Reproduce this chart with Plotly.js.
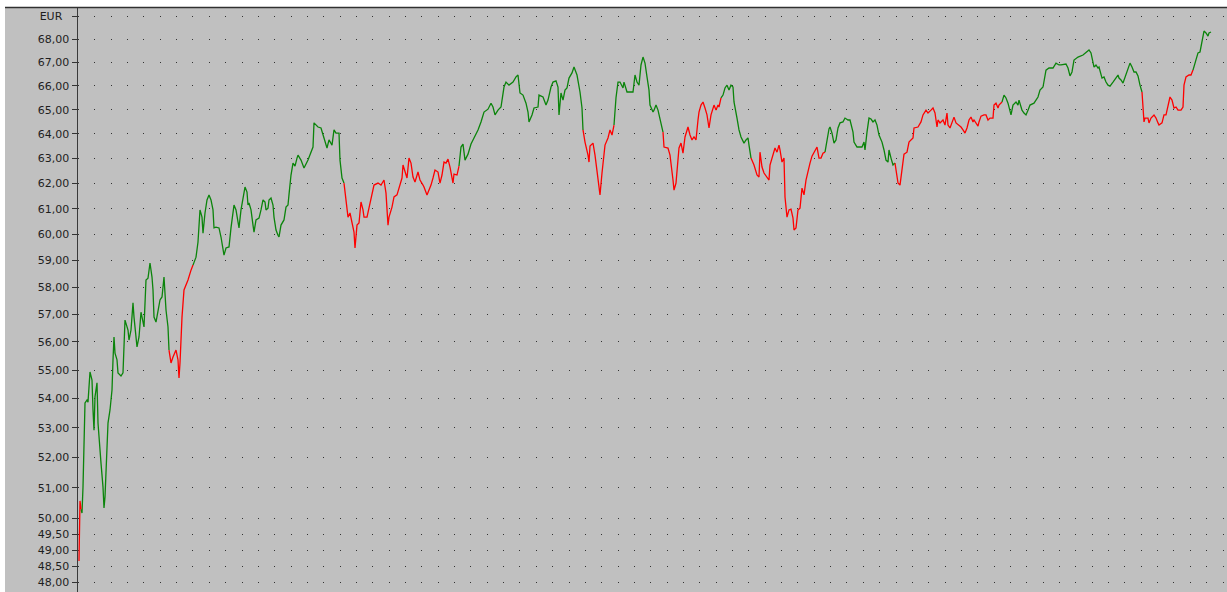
<!DOCTYPE html>
<html>
<head>
<meta charset="utf-8">
<script src="https://cdn.plot.ly/plotly-3.0.1.min.js"></script>
<style>
  html, body { margin: 0; padding: 0; background: #fff; }
  #chart { width: 1227px; height: 592px; }
</style>
</head>
<body>
<div id="chart"></div>
<script>
/* ── Data ────────────────────────────────────────────────── */
const days = [
  0, 1, 2, 3, 4, 5, 6, 8, 9, 11, 13, 14, 15, 16, 18, 19, 20, 22, 24, 25, 26, 28, 29, 31, 33, 34, 35, 36, 38, 39,
  42, 44, 45, 46, 49, 50, 52, 54, 55, 58, 60, 62, 65, 67, 69, 71, 73, 74, 75, 77, 81, 83, 85, 87, 89, 90,
  92, 94, 97, 99, 100, 101, 103, 105, 107, 109, 112, 114,
  117, 119, 120, 121, 123, 124, 126, 128, 130, 132, 134, 135, 137, 140, 142, 144, 145, 147, 150, 152, 154, 155,
  157, 159, 160, 162, 164, 166, 168, 169, 170, 172, 174, 175, 177, 180, 182, 184, 186, 187, 189, 190, 192, 194,
  195, 197, 199, 200, 202, 205, 207, 209, 210, 212, 214, 216, 218, 219, 222, 225, 229, 232, 234, 235, 239, 242,
  245, 248, 250, 253, 255, 257, 260, 261, 263, 265,
  267, 269, 271, 273, 275, 276, 278, 280, 282, 284, 285, 288, 290, 293, 295, 299, 302, 305, 307, 309, 310, 313,
  315, 318, 320, 323, 324, 326, 328, 330, 332, 334, 336, 339, 341, 344, 345, 348, 350, 352, 354, 356, 359, 361,
  363, 365, 367, 369, 371, 374, 375, 378, 380,
  382, 384, 386, 389, 392, 395, 399, 402, 405, 409, 412, 414, 416, 419, 422, 425, 427, 430, 434, 437, 439, 441,
  444, 447, 449, 450, 453, 455, 459, 460, 464, 467, 469, 472, 474, 477, 479, 480, 482, 484, 486, 488, 490, 493,
  495, 498, 501, 503, 504,
  506, 509, 510, 511, 514, 516, 518, 519, 521, 523, 525, 526, 529, 531, 533, 535,
  537, 539, 541, 544, 545, 548, 550, 554, 556, 558, 560, 562, 564, 566, 568, 570, 571, 574, 575, 577, 579, 581, 584,
  585, 589, 591, 594, 595, 597, 599, 600, 602, 604, 606, 609, 611, 613, 615, 617, 619, 620, 622, 624, 626, 628,
  630, 632, 635, 637, 639, 640, 642,
  644, 646, 648, 650, 652, 654, 655, 658, 660, 662, 665, 667, 669, 670, 672,
  675, 678, 680, 681, 683, 685, 688, 690, 691, 694, 696, 698, 700, 701, 703, 705, 706, 708, 710, 712, 714, 715,
  717, 719, 721, 723, 725, 727, 729, 731, 733, 735, 738, 740, 742, 744, 746,
  748, 750, 751, 753, 755, 757, 759, 761, 764, 766, 769, 771, 774, 775, 778, 780, 783, 785, 786, 788, 790, 792,
  794, 796, 798, 800, 803, 805, 807, 809, 810, 812, 814, 816,
  818, 819, 821, 822, 824, 825, 828, 830, 832, 834, 835, 839, 842, 844, 847, 849, 852, 854, 856, 858, 859, 861,
  864, 866, 868, 869, 871, 874, 875, 877, 880, 882, 884, 886, 888, 890, 892, 894, 895, 897, 899, 900, 902, 905,
  907, 909, 911, 914, 915, 917, 919, 920, 923,
  925, 927, 929, 932, 934, 937, 939, 940, 943, 945, 947, 949, 951, 955, 959, 961, 964, 967, 970, 974, 977, 980,
  982, 987, 989, 991, 993, 995, 999, 1004, 1007, 1010, 1012, 1014, 1015, 1017, 1019, 1020, 1023, 1025, 1027,
  1029, 1031, 1034, 1037, 1039, 1040, 1042, 1044, 1046, 1049, 1051, 1053, 1055, 1057, 1059, 1061, 1063,
  1064, 1065, 1066, 1069, 1070, 1072, 1075, 1077, 1079, 1080, 1083, 1085, 1087, 1089, 1091, 1093, 1095, 1097,
  1099, 1102, 1104, 1105, 1107, 1110, 1112, 1114,
  1115, 1118, 1119, 1121, 1123, 1124, 1125, 1127, 1129, 1130, 1132
];

const prices = [
  48.66, 50.57, 50.30, 50.18, 51.02, 52.86, 53.85, 53.95, 53.88, 54.93, 54.65, 53.61, 52.92, 54.06, 54.55, 53.16,
  52.59, 51.81, 51.02, 50.34, 50.70, 52.35, 53.16, 53.61, 54.30, 55.36, 56.18, 55.60, 55.36, 54.90,
  54.79, 54.90, 55.96, 56.79, 56.43, 56.07, 56.43, 57.42, 56.90, 55.82, 56.18, 57.08, 56.54, 58.27, 58.34, 58.91,
  58.38, 57.90, 56.90, 56.72, 57.53, 57.64, 58.38, 57.16, 56.54, 55.71,
  55.25, 55.46, 55.71, 55.36, 54.72, 55.25, 56.90, 57.90, 58.08, 58.27, 58.64, 58.83,
  59.13, 59.71, 60.67, 60.95, 60.67, 60.05, 60.83, 61.34, 61.54, 61.34, 60.95, 60.25, 60.28, 60.25, 59.90, 59.40,
  59.21, 59.48, 59.52, 60.25, 60.95, 61.14,
  60.95, 60.56, 60.25, 60.95, 61.46, 61.85, 61.65, 61.14, 61.22, 60.95, 60.36, 60.09, 60.56, 60.63, 60.95, 61.34,
  61.26, 60.95, 61.02, 61.34, 61.42, 61.14,
  60.67, 60.17, 59.97, 59.90, 60.36, 60.56, 61.06, 61.14, 61.55, 62.33, 62.81, 62.69, 63.01, 63.13, 62.93, 62.61,
  62.93, 63.21, 63.46, 64.45, 64.28, 64.24,
  63.87, 63.42, 63.75, 63.54, 64.16, 64.03, 64.03, 62.93, 62.21, 62.01,
  61.34, 60.67, 60.83, 60.44, 60.09, 59.48, 60.36, 60.44, 61.26, 60.95, 60.67, 60.67, 61.06, 61.61, 61.93, 62.01,
  61.93, 62.13, 61.61, 60.36, 60.67, 61.06,
  61.46, 61.54, 61.85, 62.21, 62.73, 62.41, 62.21, 63.01, 62.81, 62.25, 62.05, 62.45, 62.13, 61.93, 61.85, 61.54,
  61.73, 61.93, 62.21, 62.53, 62.45, 62.01,
  62.33, 62.85, 62.81, 62.97, 62.65, 62.01, 62.37, 62.33, 62.69,
  63.46, 63.58, 62.93, 63.17, 63.58, 63.83, 64.16, 64.49, 64.90, 65.02, 65.27, 65.11, 64.78, 64.98, 65.11, 65.95,
  66.16, 66.03, 66.16, 66.38, 66.46, 65.70,
  65.61, 65.27, 64.90, 64.49, 64.78, 65.07, 65.11, 65.61, 65.53, 65.19, 65.40, 65.95, 66.16, 66.21, 65.95, 64.78,
  65.70, 65.40, 65.82, 65.91, 66.33, 66.55,
  66.80, 66.46, 65.74, 65.07, 64.16,
  63.66, 63.13, 62.85, 63.50, 63.62, 63.13, 62.45, 62.13, 61.54, 62.41, 63.21, 63.54, 63.83, 64.16, 63.95, 64.36,
  65.50, 66.16, 66.16, 65.91, 66.16, 65.74, 65.74, 65.74, 66.46, 66.16, 66.03, 66.89, 67.23, 66.97, 66.38, 65.82,
  65.19, 64.90, 64.98, 65.19, 64.98, 64.57, 64.07,
  63.46, 63.42, 63.13, 62.13, 61.73, 62.01, 62.85, 63.42, 63.62, 63.21, 63.87, 64.28, 63.95, 63.75, 63.87, 63.75,
  64.57, 64.90, 65.19, 65.32, 65.07, 64.78,
  64.24, 64.78, 65.19, 64.98, 65.19, 65.11, 65.49,
  65.61, 65.91, 66.03, 65.82, 66.03, 65.95, 65.32, 64.65, 64.16, 63.87, 63.62, 63.75, 63.83, 63.54, 63.01,
  62.73, 62.33, 62.25, 63.25, 62.65, 62.41, 62.21, 62.13, 62.73, 63.21, 63.42, 63.25, 63.54, 63.34, 62.85, 63.01,
  61.46, 60.67, 60.95, 60.98, 60.63, 60.17,
  60.25, 60.95, 61.02, 61.81, 61.54, 62.13, 62.53, 62.81, 63.09, 63.25, 63.46, 63.01, 63.01, 63.21, 63.25,
  63.83, 64.20, 64.28, 64.03, 63.62, 63.75, 64.24, 64.45, 64.49, 64.65, 64.57, 64.57, 64.07, 63.66, 63.46, 63.46,
  63.46, 63.66, 63.34, 64.07, 64.65, 64.61,
  64.49, 64.57, 64.36, 63.95, 63.66, 63.34, 62.93, 62.85, 63.34, 63.01, 62.73, 62.81,
  62.25, 62.01, 61.93, 62.25, 62.73, 63.17, 63.25, 63.66, 63.75, 63.83, 64.24, 64.28, 64.49, 64.78, 64.98, 64.86,
  64.98, 65.07, 64.86, 64.28, 64.57, 64.45,
  64.57, 64.36, 64.86, 64.36, 64.24, 64.57, 64.69, 64.45, 64.36, 64.28, 64.16, 64.03, 64.24, 64.57, 64.69, 64.49,
  64.57, 64.45, 64.32, 64.49, 64.73, 64.78,
  64.78, 64.57, 64.65, 64.65, 65.19, 65.27, 65.07, 65.19, 65.32,
  65.61, 65.49, 65.27, 64.78, 65.19, 65.32, 65.19, 65.40, 64.98, 64.86, 64.78, 64.98, 65.19, 65.27, 65.53, 65.82,
  65.95, 66.67, 66.76, 66.76, 66.97, 66.89,
  66.89, 66.93, 66.76, 66.42, 66.59, 67.10, 67.23, 67.32, 67.45, 67.54, 67.41, 67.02, 66.80, 66.89, 66.76, 66.80,
  66.33, 66.38, 66.16,
  66.03, 65.99, 66.16, 66.33, 66.46, 66.33, 66.25, 66.12, 66.38, 66.67, 66.97, 66.80, 66.59, 66.59, 66.42, 66.03,
  65.74,
  64.78, 64.49, 64.65, 64.65, 64.45, 64.65, 64.78, 64.65, 64.45, 64.36, 64.45, 64.78, 64.78, 65.19, 65.53, 65.40,
  65.07, 65.11,
  64.98, 64.98, 65.11, 66.03, 66.38, 66.46, 66.46, 66.67,
  66.80, 67.19, 67.41, 67.45, 67.97, 68.28, 68.36, 68.28, 68.14, 68.28, 68.32
];

/* trend flips (day index); series opens in the red state */
const switchDays = [2, 90, 114, 265, 380, 504, 535, 584, 642, 672, 746, 816, 923, 1063, 1114];

const tickValues = [48, 48.5, 49, 49.5, 50, 51, 52, 53, 54, 55, 56, 57, 58, 59, 60,
                    61, 62, 63, 64, 65, 66, 67, 68, 69];
const unitLabel = 'EUR';

/* ── Build red / green traces ────────────────────────────── */
const UP = '#0b840b', DOWN = '#ff0000';

function splitByTrend() {
  const red = [], green = [];
  days.forEach((d, i) => {
    const seg = switchDays.filter(s => s < d).length;
    const flip = switchDays.includes(d);        // shared point joins both colours
    red.push(seg % 2 === 0 || flip ? prices[i] : null);
    green.push(seg % 2 === 1 || flip ? prices[i] : null);
  });
  return { red, green };
}

const { red, green } = splitByTrend();
const base = { x: days, type: 'scatter', mode: 'lines', connectgaps: false,
               hoverinfo: 'skip', showlegend: false };

const traces = [
  { ...base, y: green, line: { color: UP, width: 1.3 } },
  { ...base, y: red,   line: { color: DOWN, width: 1.3 } },
];

const tickText = tickValues.map(v =>
  v === 69 ? unitLabel + '\u00a0\u00a0' : v.toFixed(2).replace('.', ','));

/* pixel helpers for the frame shapes (plot box: l=78, t=8, 1149 x 584) */
const px = x => (x - 78) / 1149;
const py = y => (592 - y) / 584;

const layout = {
  width: 1227, height: 592, autosize: false,
  paper_bgcolor: '#c0c0c0', plot_bgcolor: '#c0c0c0',
  margin: { l: 78, r: 0, t: 8, b: 0, pad: 0 },
  font: { family: 'DejaVu Sans, sans-serif', size: 11, color: '#1e1e1e' },
  xaxis: {
    range: [-1, 1148], showgrid: false, zeroline: false,
    showticklabels: false, ticks: '', showline: false, fixedrange: true,
  },
  yaxis: {
    type: 'log',
    range: [Math.log10(47.70), Math.log10(69.38)],
    tickmode: 'array', tickvals: tickValues, ticktext: tickText,
    ticks: 'outside', ticklen: 5, tickwidth: 1, tickcolor: '#333',
    showline: true, linecolor: '#3a3a3a', linewidth: 1.5,
    showgrid: true, gridcolor: '#333', gridwidth: 1, griddash: '1px,15.35px',
    zeroline: false, fixedrange: true,
  },
  shapes: [
    // white frame strip along the top and the left edge
    { type: 'rect', xref: 'paper', yref: 'paper', x0: -0.2, x1: 1.2, y0: py(7), y1: 1.1,
      fillcolor: '#fff', line: { width: 0 }, layer: 'above' },
    { type: 'rect', xref: 'paper', yref: 'paper', x0: -0.2, x1: px(5), y0: -0.1, y1: 1.1,
      fillcolor: '#fff', line: { width: 0 }, layer: 'above' },
    { type: 'line', xref: 'paper', yref: 'paper', x0: px(5), x1: 1.1, y0: py(7.5), y1: py(7.5),
      line: { color: '#303030', width: 1.5 }, layer: 'above' },
  ],
};

Plotly.newPlot('chart', traces, layout, { staticPlot: true, displayModeBar: false });
</script>
</body>
</html>
